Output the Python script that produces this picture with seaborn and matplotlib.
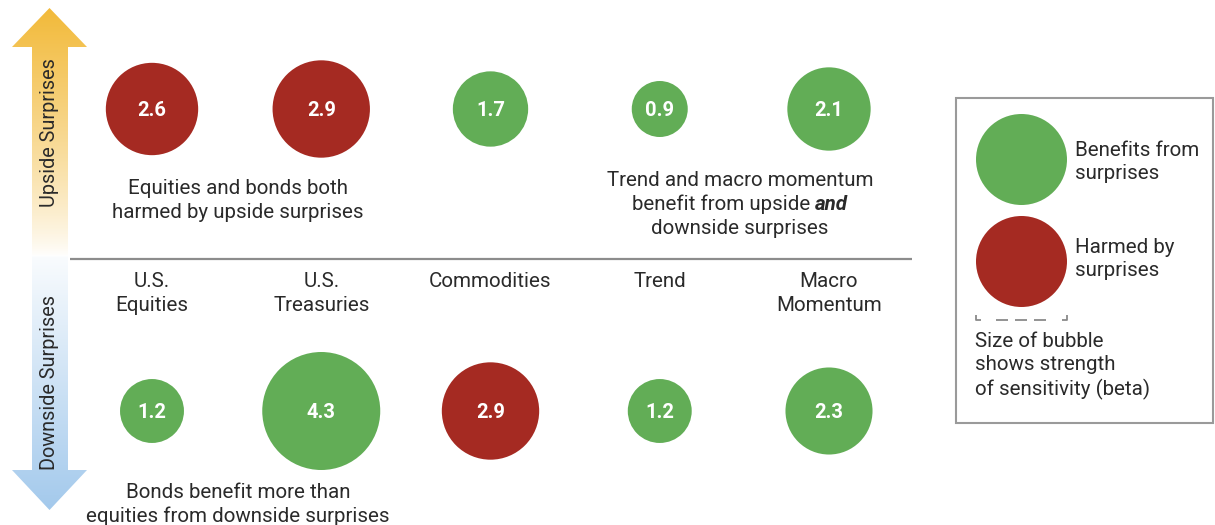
import numpy as np
import pandas as pd
import seaborn as sns
import matplotlib.pyplot as plt
from matplotlib.patches import Polygon, Rectangle
from matplotlib.colors import to_rgb

# ---------------- data ----------------
categories = ["U.S.\nEquities", "U.S.\nTreasuries", "Commodities", "Trend", "Macro\nMomentum"]
upside_beta = [2.6, 2.9, 1.7, 0.9, 2.1]
upside_effect = ["Harmed", "Harmed", "Benefits", "Benefits", "Benefits"]
downside_beta = [1.2, 4.3, 2.9, 1.2, 2.3]
downside_effect = ["Benefits", "Benefits", "Harmed", "Benefits", "Benefits"]
row_labels = ["Upside Surprises", "Downside Surprises"]
legend_labels = ["Benefits from\nsurprises", "Harmed by\nsurprises"]
size_note = "Size of bubble\nshows strength\nof sensitivity (beta)"

GREEN = "#62AD56"
RED = "#A52A22"
TXT = "#2a2a2a"
FONT = "Roboto"

sns.set_theme(style="white")
plt.rcParams["font.family"] = [FONT, "DejaVu Sans"]

df = pd.DataFrame({
    "cat": list(range(len(categories))) * 2,
    "row": [1] * len(upside_beta) + [0] * len(downside_beta),
    "beta": upside_beta + downside_beta,
    "effect": upside_effect + downside_effect,
})

W, H = 1215, 525
fig = plt.figure(figsize=(W / 100, H / 100), dpi=100)

# overlay axes in pixel coordinates for decorations
ax0 = fig.add_axes([0, 0, 1, 1])
ax0.set_xlim(0, W)
ax0.set_ylim(H, 0)
ax0.axis("off")

# ---- gradient double arrow ----
xl, xr, sl, sr, xc = 12, 87, 32, 68, 49.5
ytop, yhb, ylb, ybot = 8, 47, 470, 510
verts = [(xc, ytop), (xr, yhb), (sr, yhb), (sr, ylb), (xr, ylb), (xc, ybot),
         (xl, ylb), (sl, ylb), (sl, yhb), (xl, yhb)]
poly = Polygon(verts, closed=True, facecolor="none", edgecolor="none")
ax0.add_patch(poly)
n = 400
ys = np.linspace(ytop, ybot, n)
orange = np.array(to_rgb("#F2BA3A"))
blue = np.array(to_rgb("#A3C9EC"))
white = np.array([1.0, 1.0, 1.0])
mid = 256
grad = np.zeros((n, 1, 3))
for i, y in enumerate(ys):
    if y <= mid:
        t = (mid - y) / (mid - ytop)
        t = t ** 0.8
        grad[i, 0] = white + (orange - white) * t
    else:
        t = (y - mid) / (ybot - mid)
        t = 0.06 + 0.94 * t
        grad[i, 0] = white + (blue - white) * t
im = ax0.imshow(grad, extent=[xl, xr, ybot, ytop], aspect="auto", zorder=1)
im.set_clip_path(poly)
ax0.set_xlim(0, W)
ax0.set_ylim(H, 0)

ax0.text(xc, 133, row_labels[0], rotation=90, ha="center", va="center",
         fontsize=14.3, color=TXT, zorder=2)
ax0.text(xc, 382, row_labels[1], rotation=90, ha="center", va="center",
         fontsize=14.3, color=TXT, zorder=2)

# ---- annotations ----
FS = 14.8
LS = 1.3
def lines_at(x, ys_, lines, ha="center"):
    for y, s in zip(ys_, lines):
        ax0.text(x, y, s, ha=ha, va="center_baseline", fontsize=FS, color=TXT)

lines_at(238, [187, 211], ["Equities and bonds both", "harmed by upside surprises"])
lines_at(238, [491, 514], ["Bonds benefit more than", "equities from downside surprises"])
lines_at(740, [178], ["Trend and macro momentum"])
lines_at(740, [226], ["downside surprises"])
# mixed line with bold italic "and"
renderer = fig.canvas.get_renderer()
t1 = ax0.text(0, 202, "benefit from upside", ha="left", va="center_baseline",
              fontsize=FS, color=TXT)
t2 = ax0.text(0, 202, "and", ha="left", va="center_baseline", fontsize=FS,
              color=TXT, fontweight="bold", fontstyle="italic")
w1 = t1.get_window_extent(renderer).width
w2 = t2.get_window_extent(renderer).width
gap = FS * 0.30
x_start = 740 - (w1 + gap + w2) / 2
t1.set_x(x_start)
t2.set_x(x_start + w1 + gap)

# ---- legend box ----
ax0.add_patch(Rectangle((956, 98), 1213 - 956, 423 - 98, facecolor="none",
                        edgecolor="#9a9a9a", lw=1.5))
leg_s = (91 * 0.72) ** 2
ax0.scatter([1021], [159], s=leg_s, color=GREEN, linewidths=0, zorder=3)
ax0.scatter([1021], [261], s=leg_s, color=RED, linewidths=0, zorder=3)
ax0.text(1075, 162, legend_labels[0], ha="left", va="center", fontsize=FS,
         color=TXT, linespacing=LS)
ax0.text(1075, 259, legend_labels[1], ha="left", va="center", fontsize=FS,
         color=TXT, linespacing=LS)
BR = "#8a8a8a"
ax0.plot([976, 976, 981], [315, 320, 320], color=BR, lw=1.3, solid_capstyle="butt")
ax0.plot([1062, 1067, 1067], [320, 320, 315], color=BR, lw=1.3, solid_capstyle="butt")
for x0 in (996, 1015, 1034):
    ax0.plot([x0, x0 + 12], [320, 320], color=BR, lw=1.3, solid_capstyle="butt")
ax0.text(975, 366, size_note, ha="left", va="center", fontsize=FS,
         color=TXT, linespacing=LS)

# ---------------- main bubble axes ----------------
ax = fig.add_axes([70 / W, 0, (912 - 70) / W, 1])
ax.patch.set_alpha(0)
d_min, d_max = 56, 118  # bubble diameters in px for smallest/largest beta
sns.scatterplot(data=df, x="cat", y="row", hue="effect", size="beta",
                sizes=((d_min * 0.72) ** 2, (d_max * 0.72) ** 2),
                palette={"Benefits": GREEN, "Harmed": RED},
                linewidth=0, legend=False, ax=ax, zorder=3, alpha=1)
step = (829 - 152) / 4
ax.set_xlim(-(152 - 70) / step, 4 + (912 - 829) / step)
ax.set_ylim(-114 / 302, 1 + 109 / 302)
ax.axis("off")

for _, r in df.iterrows():
    ax.text(r["cat"], r["row"], f"{r['beta']:.1f}", ha="center",
            va="center_baseline", color="white", fontsize=14.5,
            fontweight="bold", zorder=4)

ax.axhline(0.503, color="#8c8c8c", lw=1.6, zorder=1)

for i, c in enumerate(categories):
    ax.text(i, 0.459, c, ha="center", va="top", fontsize=FS, color=TXT,
            linespacing=LS)

fig.savefig("out.png", dpi=100)
